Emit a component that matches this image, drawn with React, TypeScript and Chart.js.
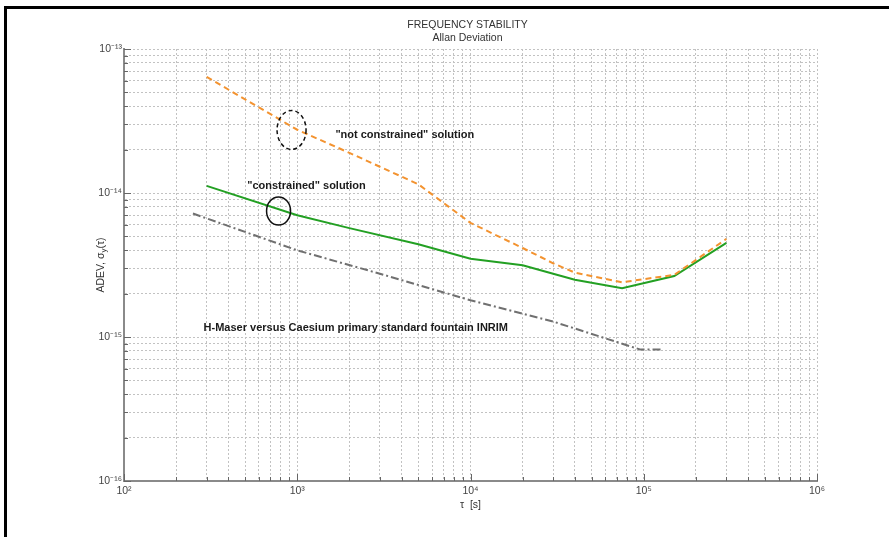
import React, { useEffect, useRef } from 'react';
import { Chart, registerables } from 'chart.js';

Chart.register(...registerables);

// ---- data ----
const notConstrainedTau = [300, 1000, 2000, 5000, 10000, 20000, 30000, 40000, 75000, 150000, 300000];
const notConstrainedAdev = [6.4e-14, 2.75e-14, 1.9e-14, 1.15e-14, 6.2e-15, 4.15e-15, 3.25e-15, 2.8e-15, 2.4e-15, 2.7e-15, 4.8e-15];

const constrainedTau = [300, 1000, 2000, 5000, 10000, 20000, 30000, 40000, 75000, 150000, 300000];
const constrainedAdev = [1.12e-14, 7.0e-15, 5.7e-15, 4.4e-15, 3.5e-15, 3.15e-15, 2.75e-15, 2.5e-15, 2.18e-15, 2.65e-15, 4.5e-15];

const maserTau = [250, 1000, 3000, 10000, 30000, 95000, 130000];
const maserAdev = [7.2e-15, 4.0e-15, 2.75e-15, 1.8e-15, 1.28e-15, 8.2e-16, 8.2e-16];

const xDecades = [2, 3, 4, 5, 6];
const yDecades = [-16, -15, -14, -13];

const titleLines = ['FREQUENCY STABILITY', 'Allan Deviation'];
const xAxisTitle = 'τ  [s]';
const yAxisTitleParts = ['ADEV, σ', 'y', '(τ)'];

const annotationTexts = [
  '"not constrained" solution',
  '"constrained" solution',
  'H-Maser versus Caesium primary standard fountain INRIM',
];
const annotationTau = [1660, 514, 288];
const annotationAdev = [2.53e-14, 1.12e-14, 1.155e-15];

const ellipseTau = [927, 780];
const ellipseAdev = [2.74e-14, 7.5e-15];

// ---- helpers ----
const SUP: Record<string, string> = {
  '-': '⁻', '0': '⁰', '1': '¹', '2': '²', '3': '³', '4': '⁴',
  '5': '⁵', '6': '⁶', '7': '⁷', '8': '⁸', '9': '⁹',
};
const sup = (n: number) => String(n).split('').map((c) => SUP[c] || c).join('');

const isPow10 = (v: number) => {
  const l = Math.log10(v);
  return Math.abs(l - Math.round(l)) < 1e-6;
};

const decadeTicks = (decs: number[]) => {
  const out: number[] = [];
  for (let i = 0; i < decs.length - 1; i++) {
    for (let k = 1; k < 10; k++) out.push(k * Math.pow(10, decs[i]));
  }
  out.push(Math.pow(10, decs[decs.length - 1]));
  return out;
};

const xTickValues = decadeTicks(xDecades);
const yTickValues = decadeTicks(yDecades);

const toPoints = (xs: number[], ys: number[]) => xs.map((x, i) => ({ x, y: ys[i] }));

const FONT = '"Liberation Sans", Arial, sans-serif';

const decorPlugin = {
  id: 'decor',
  afterDraw(chart: any) {
    const { ctx, chartArea, scales } = chart;
    const xs = scales.x;
    const ys = scales.y;
    ctx.save();

    // inner ticks
    ctx.strokeStyle = '#666';
    ctx.lineWidth = 1;
    ctx.setLineDash([]);
    xs.ticks.forEach((t: any) => {
      const px = Math.round(xs.getPixelForValue(t.value)) + 0.5;
      const len = isPow10(t.value) ? 7 : 4;
      ctx.beginPath();
      ctx.moveTo(px, chartArea.bottom);
      ctx.lineTo(px, chartArea.bottom - len);
      ctx.stroke();
    });
    ys.ticks.forEach((t: any) => {
      const py = Math.round(ys.getPixelForValue(t.value)) + 0.5;
      const len = isPow10(t.value) ? 7 : 4;
      ctx.beginPath();
      ctx.moveTo(chartArea.left, py);
      ctx.lineTo(chartArea.left + len, py);
      ctx.stroke();
    });

    // title
    const cx = (chartArea.left + chartArea.right) / 2;
    ctx.fillStyle = '#333';
    ctx.font = `10.5px ${FONT}`;
    ctx.textAlign = 'center';
    ctx.textBaseline = 'middle';
    ctx.fillText(titleLines[0], cx - 3, chartArea.top - 24);
    ctx.fillText(titleLines[1], cx - 3, chartArea.top - 11);

    // x axis title
    ctx.fillText(xAxisTitle, cx, chartArea.bottom + 24);

    // y axis title (rotated)
    const cy = (chartArea.top + chartArea.bottom) / 2;
    ctx.save();
    ctx.translate(chartArea.left - 23, cy);
    ctx.rotate(-Math.PI / 2);
    ctx.textAlign = 'left';
    ctx.font = `10.5px ${FONT}`;
    const w0 = ctx.measureText(yAxisTitleParts[0]).width;
    const w2 = ctx.measureText(yAxisTitleParts[2]).width;
    ctx.font = `8px ${FONT}`;
    const w1 = ctx.measureText(yAxisTitleParts[1]).width;
    const total = w0 + w1 + w2;
    let sx = -total / 2;
    ctx.font = `10.5px ${FONT}`;
    ctx.fillText(yAxisTitleParts[0], sx, 0);
    sx += w0;
    ctx.font = `8px ${FONT}`;
    ctx.fillText(yAxisTitleParts[1], sx, 3);
    sx += w1;
    ctx.font = `10.5px ${FONT}`;
    ctx.fillText(yAxisTitleParts[2], sx, 0);
    ctx.restore();

    // annotations
    ctx.font = `bold 11px ${FONT}`;
    ctx.fillStyle = '#1a1a1a';
    ctx.textAlign = 'left';
    ctx.textBaseline = 'middle';
    annotationTexts.forEach((txt, i) => {
      ctx.fillText(txt, xs.getPixelForValue(annotationTau[i]), ys.getPixelForValue(annotationAdev[i]));
    });

    // ellipses
    ctx.strokeStyle = '#111';
    ctx.lineWidth = 1.5;
    ctx.setLineDash([4, 3]);
    ctx.beginPath();
    ctx.ellipse(xs.getPixelForValue(ellipseTau[0]), ys.getPixelForValue(ellipseAdev[0]), 14.5, 19.5, 0, 0, Math.PI * 2);
    ctx.stroke();
    ctx.setLineDash([]);
    ctx.beginPath();
    ctx.ellipse(xs.getPixelForValue(ellipseTau[1]), ys.getPixelForValue(ellipseAdev[1]), 12, 14, 0, 0, Math.PI * 2);
    ctx.stroke();

    ctx.restore();
  },
};

export default function App() {
  const ref = useRef<HTMLCanvasElement | null>(null);

  useEffect(() => {
    if (!ref.current) return;
    const tickLabel = (value: any) => {
      const v = Number(value);
      return isPow10(v) ? '10' + sup(Math.round(Math.log10(v))) : '';
    };
    const chart = new Chart(ref.current, {
      type: 'line',
      data: {
        datasets: [
          {
            label: 'not constrained',
            data: toPoints(notConstrainedTau, notConstrainedAdev),
            borderColor: '#f39330',
            borderWidth: 2,
            borderDash: [6, 4],
            pointRadius: 0,
            tension: 0,
            fill: false,
          },
          {
            label: 'constrained',
            data: toPoints(constrainedTau, constrainedAdev),
            borderColor: '#23a023',
            borderWidth: 2,
            pointRadius: 0,
            tension: 0,
            fill: false,
          },
          {
            label: 'H-Maser',
            data: toPoints(maserTau, maserAdev),
            borderColor: '#707070',
            borderWidth: 2,
            borderDash: [8, 3, 2, 3],
            pointRadius: 0,
            tension: 0,
            fill: false,
          },
        ],
      },
      options: {
        responsive: false,
        animation: false,
        layout: { padding: { top: 49, right: 72, left: 0, bottom: 0 } },
        plugins: {
          legend: { display: false },
          tooltip: { enabled: false },
          title: { display: false },
        },
        scales: {
          x: {
            type: 'logarithmic',
            min: 100,
            max: 1e6,
            afterBuildTicks: (s: any) => {
              s.ticks = xTickValues.map((v) => ({ value: v }));
            },
            afterFit: (s: any) => {
              s.height = 56;
            },
            ticks: {
              autoSkip: false,
              maxRotation: 0,
              padding: 4,
              color: '#444',
              font: { family: FONT, size: 10.5 },
              callback: tickLabel,
            },
            grid: { color: '#c2c2c2', lineWidth: 1, drawTicks: false },
            border: { display: true, color: '#8a8a8a', width: 2, dash: [2, 2] },
          },
          y: {
            type: 'logarithmic',
            min: 1e-16,
            max: 1e-13,
            afterBuildTicks: (s: any) => {
              s.ticks = yTickValues.map((v) => ({ value: v }));
            },
            afterFit: (s: any) => {
              s.width = 124;
            },
            ticks: {
              autoSkip: false,
              padding: 2,
              color: '#444',
              font: { family: FONT, size: 10.5 },
              callback: tickLabel,
            },
            grid: { color: '#c2c2c2', lineWidth: 1, drawTicks: false },
            border: { display: true, color: '#8a8a8a', width: 2, dash: [2, 2] },
          },
        },
      },
      plugins: [decorPlugin],
    } as any);
    return () => chart.destroy();
  }, []);

  return (
    <div style={{ position: 'fixed', left: 0, top: 0, width: 889, height: 537, background: '#fff' }}>
      <div
        style={{
          position: 'absolute',
          left: 4,
          top: 6,
          right: 0,
          bottom: 0,
          borderTop: '3px solid #000',
          borderLeft: '3px solid #000',
        }}
      />
      <canvas ref={ref} width={889} height={537} style={{ position: 'absolute', left: 0, top: 0 }} />
    </div>
  );
}
